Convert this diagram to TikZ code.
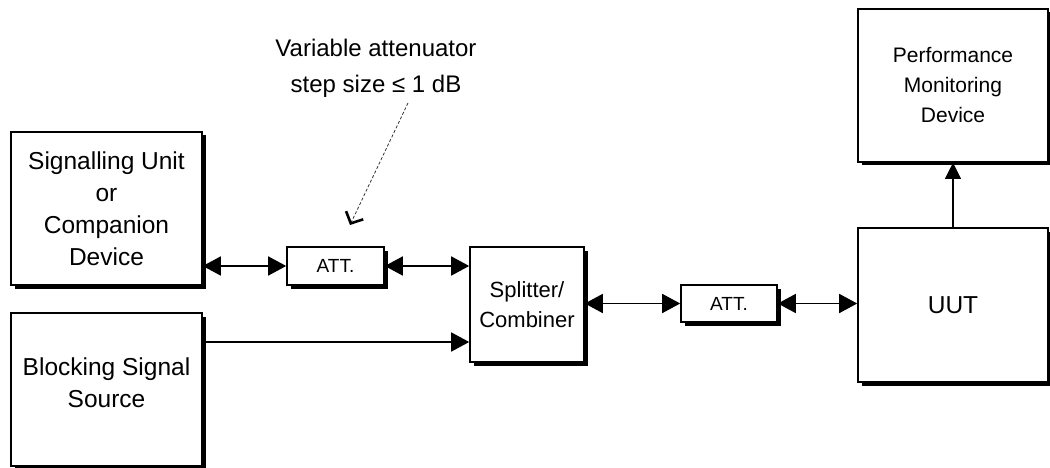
\documentclass[tikz,border=0pt]{standalone}
\usepackage{fontspec}
\setmainfont{Liberation Sans}
\usetikzlibrary{arrows.meta,shadows}
\begin{document}
\begin{tikzpicture}[x=1pt,y=-1pt,
  box/.style={draw=black,line width=1.6pt,fill=white,align=center,inner sep=0pt,
    general shadow={fill=black,shadow xshift=3.5pt,shadow yshift=-3.5pt}},
  bigtxt/.style={font=\fontsize{24.5}{32}\selectfont},
  midtxt/.style={font=\fontsize{22}{30}\selectfont},
  smalltxt/.style={font=\fontsize{21}{30}\selectfont},
  atttxt/.style={font=\fontsize{19}{20}\selectfont},
  link/.style={line width=1.6pt,{Triangle[length=18pt,width=19pt]}-{Triangle[length=18pt,width=19pt]}},
  onelink/.style={line width=1.6pt,-{Triangle[length=18pt,width=19pt]}},
  uplink/.style={line width=1.1pt,-{Triangle[length=16pt,width=16pt]}},
  note/.style={line width=0.8pt,densely dashed,draw=black!80,-{Straight Barb[length=9pt,width=19pt,line width=2.6pt,color=black]}}
]
\useasboundingbox (0,0) rectangle (1050,468);

\node[box,bigtxt,minimum width=191pt,minimum height=153pt] (sig) at (106.5,208.5)
  {Signalling Unit\\or\\Companion\\Device};
\node[box,bigtxt,minimum width=191pt,minimum height=153pt,text depth=14pt] (blk) at (106.5,389.5)
  {Blocking Signal\\Source};
\node[box,atttxt,minimum width=97pt,minimum height=38pt] (att1) at (335.5,266) {ATT.};
\node[box,midtxt,minimum width=114pt,minimum height=115pt] (split) at (527,304.5) {Splitter/\\Combiner};
\node[box,atttxt,minimum width=96pt,minimum height=37pt] (att2) at (729,303.5) {ATT.};
\node[box,bigtxt,minimum width=190pt,minimum height=154pt] (uut) at (953,305) {UUT};
\node[box,smalltxt,minimum width=190pt,minimum height=153pt] (perf) at (953,85.5)
  {Performance\\Monitoring\\Device};

\node[align=center,font=\fontsize{24}{36}\selectfont] (ann) at (376,68)
  {Variable attenuator\\step size ≤ 1 dB};
\coordinate (annS) at (408,103);
\coordinate (annE) at (350,225);
\draw[note] (annS) -- (annE);

\coordinate (yb) at (0,342);
\draw[link] (att1.west -| sig.east) -- (att1.west);
\draw[link] (att1.east) -- (att1.east -| split.west);
\draw[onelink] (blk.east |- yb) -- (split.west |- yb);
\draw[link] (att2.west -| split.east) -- (att2.west);
\draw[link] (att2.east) -- (att2.east -| uut.west);
\draw[uplink] (uut.north) -- (perf.south);
\end{tikzpicture}
\end{document}
